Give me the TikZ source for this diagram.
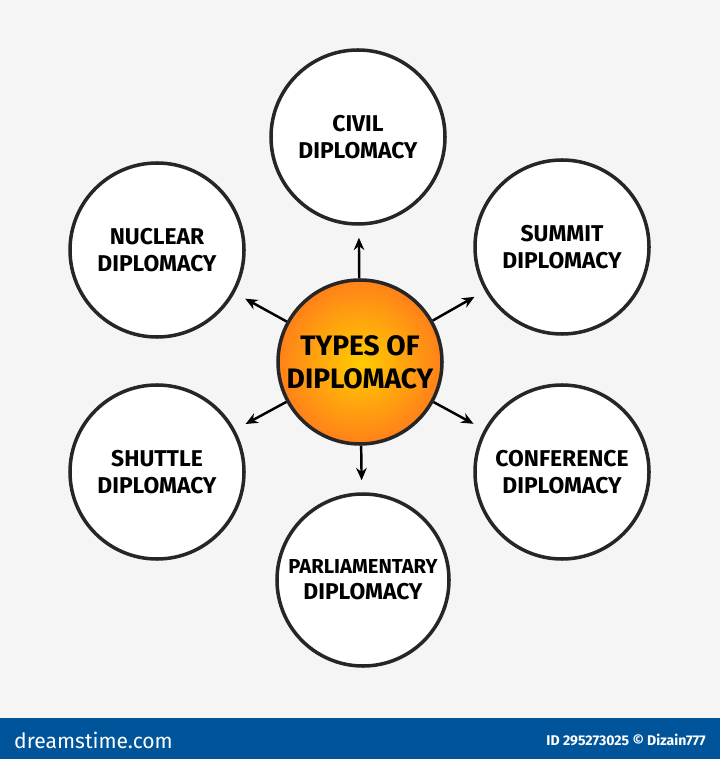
\documentclass[tikz,border=0pt]{standalone}
\usepackage{fontspec}
\setmainfont{Fira Sans}
\usetikzlibrary{positioning, arrows, arrows.meta}

\begin{document}
\begin{tikzpicture}[x=0.02cm, y=-0.02cm, >=stealth,
    kind/.style = {circle, draw=black!85, line width=2pt, fill=white, minimum size=174*0.02cm,
                   align=center, font=\fontsize{13}{15}\selectfont\bfseries, inner sep=0pt},
    hub/.style = {circle, draw=black!85, line width=2pt, minimum size=164*0.02cm, inner sep=0pt,
                  inner color=yellow!60!orange, outer color=orange!90!red!90,
                  align=center, font=\fontsize{16}{19}\selectfont\bfseries},
    arrow/.style = {line width=1.4pt, -{Stealth[length=7pt,width=6pt]}, shorten >=0.24cm}]

    % Background
    \fill[black!4] (0,0) rectangle (720,718);
    \fill[blue!45!cyan!60!black] (0,718) rectangle (720,759);
    \useasboundingbox (0,0) rectangle (720,759);

    % Nodes
    \node [hub] (types) at (360,362) {TYPES OF\\DIPLOMACY};
    \node [kind] (civil) at (358,137) {CIVIL\\DIPLOMACY};
    \node [kind] (summit) at (562,247) {SUMMIT\\DIPLOMACY};
    \node [kind] (nuclear) at (157,250) {NUCLEAR\\DIPLOMACY};
    \node [kind] (shuttle) at (157,472) {SHUTTLE\\DIPLOMACY};
    \node [kind] (conference) at (562,472) {CONFERENCE\\DIPLOMACY};
    \node [kind, minimum size=172*0.02cm] (parliament) at (363,580)
        {\fontsize{11.5}{14}\selectfont PARLIAMENTARY\\DIPLOMACY};

    % Arrows
    \foreach \target in {civil, summit, nuclear, shuttle, conference, parliament}
        \draw [arrow] (types) -- (\target);

    % Footer
    \node [text=white, anchor=west, font=\fontsize{12}{14}\selectfont] (site) at (8,740) {dreamstime.com};
    \node [text=white, anchor=east, font=\fontsize{8}{10}\selectfont\bfseries] (ident) at (712,740)
        {ID 295273025 \textcopyright{} Dizain777};
\end{tikzpicture}
\end{document}
